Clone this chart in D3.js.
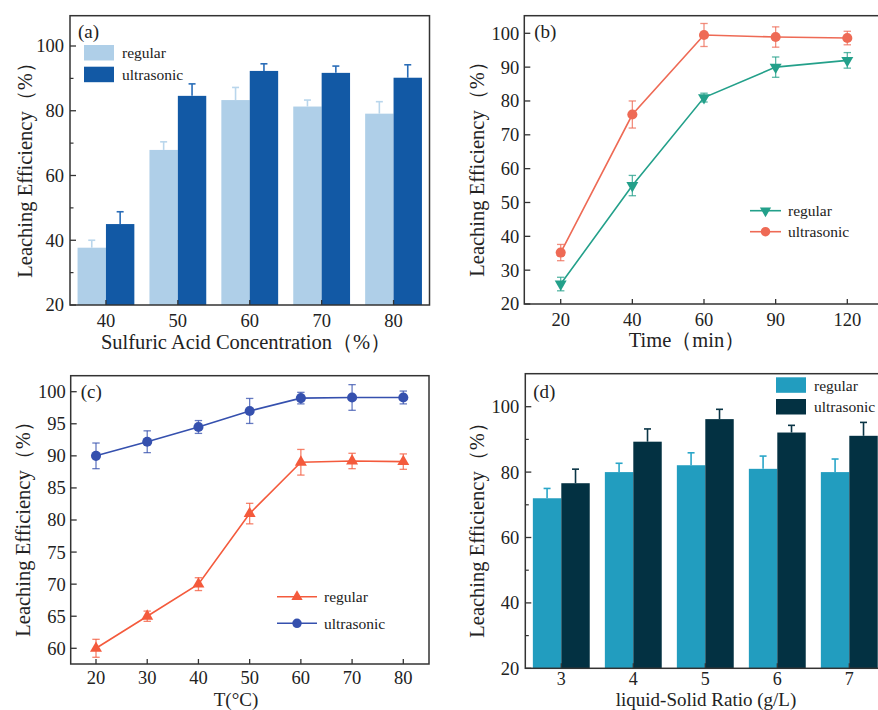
<!DOCTYPE html>
<html><head><meta charset="utf-8">
<script src="https://cdn.jsdelivr.net/npm/d3@7/dist/d3.min.js"></script>
<style>
html,body{margin:0;padding:0;background:#fff;}
svg{display:block;}
text{font-family:"Liberation Serif","Times New Roman",serif;fill:#222;}
</style></head>
<body>
<script>
// ---- Data ----
const catsA = ["40","50","60","70","80"];
const regA = [37.7, 67.9, 83.3, 81.3, 79.1];
const regAErr = [2.3, 2.5, 3.9, 2.0, 3.7];
const ultA = [45.0, 84.6, 92.3, 91.7, 90.2];
const ultAErr = [3.8, 3.7, 2.2, 2.1, 4.0];

const catsB = ["20","40","60","90","120"];
const regB = [25.9, 55.0, 81.0, 90.0, 92.0];
const regBErr = [2.0, 3.0, 1.3, 3.0, 2.3];
const ultB = [35.2, 76.0, 99.5, 98.9, 98.6];
const ultBErr = [2.4, 4.0, 3.4, 3.0, 2.0];

const xC = [20, 30, 40, 50, 60, 70, 80];
const regC = [60.0, 65.0, 70.0, 81.0, 89.0, 89.2, 89.1];
const regCErr = [1.4, 0.8, 1.0, 1.6, 2.0, 1.2, 1.2];
const ultC = [90.0, 92.2, 94.5, 97.0, 99.0, 99.1, 99.1];
const ultCErr = [2.0, 1.7, 1.0, 1.95, 0.9, 2.0, 1.0];

const catsD = ["3","4","5","6","7"];
const regD = [72.0, 80.0, 82.1, 81.0, 80.0];
const regDErr = [3.0, 2.7, 3.8, 3.9, 4.0];
const ultD = [76.6, 89.3, 96.2, 92.1, 91.1];
const ultDErr = [4.3, 3.9, 3.0, 2.2, 4.1];

const ticksA = [20, 40, 60, 80, 100];
const ticksC = [60, 65, 70, 75, 80, 85, 90, 95, 100];
const ticksB = [20, 30, 40, 50, 60, 70, 80, 90, 100];

const W = 878, H = 710;
const svg = d3.select("body").append("svg").attr("width", W).attr("height", H);
svg.append("rect").attr("width", W).attr("height", H).attr("fill", "#fff");

const FRAME = "#333";
const TICKFS = 18.5;
const TITLEFS = 20.5;

function frame(g, L, T, R, B) {
  g.append("rect").attr("x", L).attr("y", T).attr("width", R - L).attr("height", B - T)
    .attr("fill", "none").attr("stroke", FRAME).attr("stroke-width", 1.5);
}

function yAxis(g, y, L, ticks, minor, labelX) {
  ticks.forEach(t => {
    g.append("line").attr("x1", L).attr("x2", L + 6).attr("y1", y(t)).attr("y2", y(t))
      .attr("stroke", FRAME).attr("stroke-width", 1.3);
    g.append("text").attr("x", labelX).attr("y", y(t)).attr("dy", "0.35em")
      .attr("text-anchor", "end").attr("font-size", TICKFS).text(t);
  });
  (minor || []).forEach(t => {
    g.append("line").attr("x1", L).attr("x2", L + 3.5).attr("y1", y(t)).attr("y2", y(t))
      .attr("stroke", FRAME).attr("stroke-width", 1.2);
  });
}

function xTicks(g, xs, labels, B, labelY, fs) {
  xs.forEach((x, i) => {
    g.append("line").attr("x1", x).attr("x2", x).attr("y1", B).attr("y2", B - 5)
      .attr("stroke", FRAME).attr("stroke-width", 1.3);
    g.append("text").attr("x", x).attr("y", labelY).attr("text-anchor", "middle")
      .attr("font-size", fs || TICKFS).text(labels[i]);
  });
}

function yTitle(g, cx, cy, txt) {
  g.append("text").attr("transform", `translate(${cx},${cy}) rotate(-90)`)
    .attr("text-anchor", "middle").attr("dy", "0.35em").attr("font-size", TITLEFS).text(txt);
}

// ---------- Bar panel ----------
function barPanel(o) {
  const g = svg.append("g");
  const x = d3.scaleBand().domain(o.cats).range([o.L, o.L + o.step * o.cats.length])
    .paddingInner(0.21).paddingOuter(0.105);
  const y = d3.scaleLinear().domain([20, 100]).range([o.B, o.y100]);
  const bw = x.bandwidth() / 2;
  const series = [
    {v: o.reg, e: o.regErr, c: o.cReg, ec: o.ecReg, off: 0},
    {v: o.ult, e: o.ultErr, c: o.cUlt, ec: o.ecUlt, off: bw}
  ];
  series.forEach(s => {
    o.cats.forEach((c, i) => {
      const x0 = x(c) + s.off;
      g.append("rect").attr("x", x0).attr("y", y(s.v[i])).attr("width", bw)
        .attr("height", y(20) - y(s.v[i])).attr("fill", s.c);
      const xm = x0 + bw / 2, ytop = y(s.v[i] + s.e[i]);
      g.append("line").attr("x1", xm).attr("x2", xm).attr("y1", y(s.v[i])).attr("y2", ytop)
        .attr("stroke", s.ec).attr("stroke-width", 1.6);
      g.append("line").attr("x1", xm - 3.5).attr("x2", xm + 3.5).attr("y1", ytop).attr("y2", ytop)
        .attr("stroke", s.ec).attr("stroke-width", 1.6);
    });
  });
  frame(g, o.L, o.T, o.R, o.B);
  yAxis(g, y, o.L, ticksA, [30, 50, 70, 90], o.L - 6);
  xTicks(g, o.cats.map(c => x(c) + x.bandwidth() / 2), o.cats, o.B, o.B + o.xlDy, o.xlFs);
  // legend
  [[o.cReg, "regular"], [o.cUlt, "ultrasonic"]].forEach((d, i) => {
    g.append("rect").attr("x", o.legX).attr("y", o.legY + i * 21.7).attr("width", 30).attr("height", 15.5)
      .attr("fill", d[0]);
    g.append("text").attr("x", o.legX + 38).attr("y", o.legY + i * 21.7 + 8).attr("dy", "0.35em")
      .attr("font-size", 15.5).text(d[1]);
  });
  g.append("text").attr("x", o.L + 8).attr("y", o.tagY).attr("dy", "0.35em").attr("font-size", 19).text(o.tag);
  yTitle(g, o.ytX, o.ytY, "Leaching Efficiency（%）");
  g.append("text").attr("x", o.xtX).attr("y", o.xtY).attr("text-anchor", "middle")
    .attr("font-size", o.xtFs || TITLEFS).text(o.xTitle);
}

barPanel({cats: catsA, reg: regA, regErr: regAErr, ult: ultA, ultErr: ultAErr,
  L: 70, T: 15.7, R: 429.5, B: 305, step: 71.9, y100: 46,
  cReg: "#AFCFE8", ecReg: "#B9D6EC", cUlt: "#1259A5", ecUlt: "#2A6DB8",
  legX: 84, legY: 45, tag: "(a)", tagY: 31, xlDy: 22,
  ytX: 25, ytY: 165, xtX: 246, xtY: 349, xTitle: "Sulfuric Acid Concentration（%）"});

barPanel({cats: catsD, reg: regD, regErr: regDErr, ult: ultD, ultErr: ultDErr,
  L: 525.3, T: 373.7, R: 885, B: 668.3, step: 72, y100: 406.7,
  cReg: "#229DBF", ecReg: "#2AA6C8", cUlt: "#033142", ecUlt: "#0A3546",
  legX: 776, legY: 377.3, tag: "(d)", tagY: 391, xlDy: 16.7, xlFs: 18,
  ytX: 477, ytY: 525, xtX: 706, xtY: 705.8, xtFs: 19, xTitle: "liquid-Solid Ratio (g/L)"});

// ---------- Line panel ----------
function linePanel(o) {
  const g = svg.append("g");
  const y = d3.scaleLinear().domain(o.yDom).range(o.yRange);
  const series = [
    {v: o.reg, e: o.regErr, c: o.cReg, sym: o.symReg, rot: o.rotReg, name: "regular"},
    {v: o.ult, e: o.ultErr, c: o.cUlt, sym: d3.symbolCircle, rot: 0, name: "ultrasonic"}
  ];
  const pg = g.append("g");
  series.forEach(s => {
    const pts = o.xs.map((xv, i) => [o.x(xv), y(s.v[i])]);
    pg.append("path").attr("d", d3.line()(pts)).attr("fill", "none")
      .attr("stroke", s.c).attr("stroke-width", 1.6);
    pts.forEach((p, i) => {
      const y1 = y(s.v[i] + s.e[i]), y2 = y(s.v[i] - s.e[i]);
      pg.append("line").attr("x1", p[0]).attr("x2", p[0]).attr("y1", y1).attr("y2", y2)
        .attr("stroke", s.c).attr("stroke-width", 1.3).attr("opacity", 0.75);
      [y1, y2].forEach(yy => pg.append("line").attr("x1", p[0] - 3.7).attr("x2", p[0] + 3.7)
        .attr("y1", yy).attr("y2", yy).attr("stroke", s.c).attr("stroke-width", 1.3).attr("opacity", 0.75));
      pg.append("path").attr("d", d3.symbol().type(s.sym).size(s.sym === d3.symbolCircle ? 80 : 62)())
        .attr("transform", `translate(${p[0]},${p[1]}) rotate(${s.rot})`).attr("fill", s.c);
    });
  });
  frame(g, o.L, o.T, o.R, o.B);
  yAxis(g, y, o.L, o.yTicks, [], o.L - 5);
  xTicks(g, o.xs.map(o.x), o.xLabels, o.B, o.B + o.xlDy, o.xlFs);
  series.forEach((s, i) => {
    const ly = o.legY + i * o.legDy;
    g.append("line").attr("x1", o.legX).attr("x2", o.legX + o.legW).attr("y1", ly).attr("y2", ly)
      .attr("stroke", s.c).attr("stroke-width", 1.6);
    g.append("path").attr("d", d3.symbol().type(s.sym).size(s.sym === d3.symbolCircle ? 70 : 55)())
      .attr("transform", `translate(${o.legX + o.legW / 2},${ly}) rotate(${s.rot})`).attr("fill", s.c);
    g.append("text").attr("x", o.legX + o.legW + 7).attr("y", ly).attr("dy", "0.35em")
      .attr("font-size", 15.5).text(s.name);
  });
  g.append("text").attr("x", o.L + 10).attr("y", o.tagY).attr("dy", "0.35em").attr("font-size", 19).text(o.tag);
  yTitle(g, o.ytX, o.ytY, "Leaching Efficiency（%）");
  g.append("text").attr("x", o.xtX).attr("y", o.xtY).attr("text-anchor", "middle")
    .attr("font-size", o.xtFs || TITLEFS).text(o.xTitle);
}

const xB = d3.scalePoint().domain(catsB).range([560.7, 847.3]);
linePanel({xs: catsB, x: xB, xLabels: catsB, reg: regB, regErr: regBErr, ult: ultB, ultErr: ultBErr,
  L: 524.3, T: 15.7, R: 884, B: 304, yDom: [20, 100], yRange: [304, 33.3], yTicks: ticksB,
  cReg: "#23A08A", cUlt: "#EE6A55", symReg: d3.symbolTriangle, rotReg: 180,
  legX: 750, legY: 210.7, legDy: 21, legW: 31, tag: "(b)", tagY: 31.5, xlDy: 22,
  ytX: 477, ytY: 164, xtX: 687, xtY: 347, xTitle: "Time（min）"});

const xCs = d3.scaleLinear().domain([20, 80]).range([96, 403.3]);
linePanel({xs: xC, x: xCs, xLabels: xC, reg: regC, regErr: regCErr, ult: ultC, ultErr: ultCErr,
  L: 70.7, T: 375.7, R: 429, B: 664, yDom: [60, 100], yRange: [648.3, 391.7], yTicks: ticksC,
  cReg: "#F45A3C", cUlt: "#3550AE", symReg: d3.symbolTriangle, rotReg: 0,
  legX: 277, legY: 596.7, legDy: 26.6, legW: 40, tag: "(c)", tagY: 391, xlDy: 20,
  ytX: 23, ytY: 524, xtX: 236, xtY: 705.8, xtFs: 19, xTitle: "T(°C)"});
</script>
</body></html>
